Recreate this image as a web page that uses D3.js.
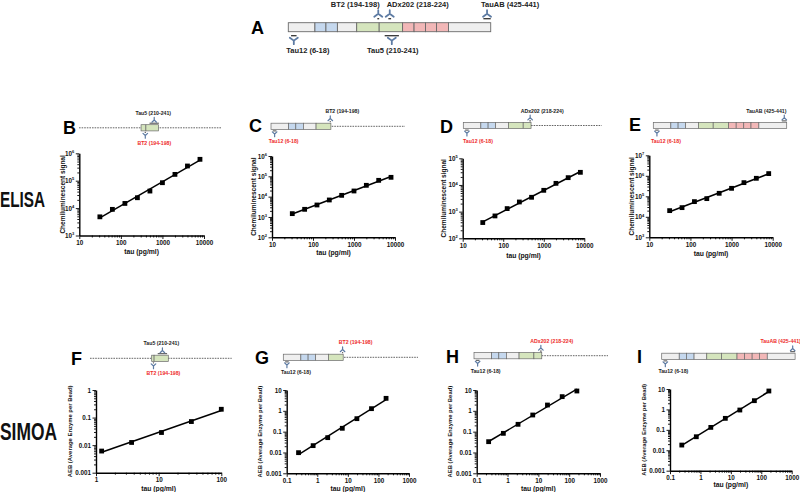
<!DOCTYPE html>
<html><head><meta charset="utf-8">
<script src="https://cdn.jsdelivr.net/npm/d3@7"></script>
<style>body{margin:0;background:#fff}svg{display:block}text{font-family:"Liberation Sans",Arial,sans-serif}</style>
</head><body><svg id="c" width="800" height="492"></svg>
<script>
// ---------- data ----------
const elisaConc = [31.25, 62.5, 125, 250, 500, 1000, 2000, 4000, 8000];
const elisaB = [4800, 9000, 14800, 23900, 41900, 84500, 170000, 344000, 603000];
const elisaC = [1460, 2380, 3890, 6860, 11600, 19000, 36100, 63500, 89300];
const elisaD = [390, 690, 1300, 2300, 3450, 6300, 11500, 18800, 29800];
const elisaE = [20000, 28000, 55000, 77000, 140000, 245000, 464000, 755000, 1280000];
const simoaConcF = [1.23, 3.7, 11.1, 33.3, 100];
const simoaF = [0.0061, 0.0125, 0.0287, 0.0717, 0.2];
const simoaConc = [0.244, 0.732, 2.195, 6.58, 19.75, 59.3, 177.8];
const simoaG = [0.0098, 0.0213, 0.0515, 0.145, 0.42, 1.27, 3.98];
const simoaH = [0.033, 0.083, 0.225, 0.63, 1.9, 4.8, 8.95];
const simoaI = [0.018, 0.046, 0.132, 0.366, 0.935, 2.68, 7.98];

const elisaXTicks = [10, 100, 1000, 10000];
const elisaXLabels = ["10", "100", "1000", "10000"];
const elisaYTicksB = [1e3, 1e4, 1e5, 1e6];
const elisaYTicksC = [1e2, 1e3, 1e4, 1e5, 1e6];
const elisaYTicksD = [1e2, 1e3, 1e4, 1e5];
const elisaYTicksE = [1e3, 1e4, 1e5, 1e6, 1e7];
const simoaXTicksF = [1, 10, 100];
const simoaXLabelsF = ["1", "10", "100"];
const simoaXTicks = [0.1, 1, 10, 100, 1000];
const simoaXLabels = ["0.1", "1", "10", "100", "1000"];
const simoaYTicksF = [0.001, 0.01, 0.1, 1];
const simoaYLabelsF = ["0.001", "0.01", "0.1", "1"];
const simoaYTicks = [0.001, 0.01, 0.1, 1, 10];
const simoaYLabels = ["0.001", "0.01", "0.1", "1", "10"];

// tau domain map (residue boundaries) and colours
const domainStart = [0, 58, 82, 107, 149, 198, 249, 274, 299, 323, 349];
const domainEnd   = [58, 82, 107, 149, 198, 249, 274, 299, 323, 349, 441];
const domainType  = ["n", "b", "b", "n", "g", "g", "r", "r", "r", "r", "n"];
// antibodies
const abNames  = ["Tau12", "BT2", "Tau5", "ADx202", "TauAB"];
const abStart  = [6, 194, 210, 218, 425];
const abEnd    = [18, 198, 241, 224, 441];

// ---------- drawing ----------
const svg = d3.select("#c");
const fillOf = {n: "#efefef", b: "#c5d8ee", g: "#d5e5bd", r: "#f2b7b7"};
const abColor = "#5d7ba3";
const red = "#ee2a2a";

function abLabel(i) { return `${abNames[i]} (${abStart[i]}-${abEnd[i]})`; }

function drawY(g, cx, tipY, dir, w, h, sw) {
  const jy = tipY + dir * h * 0.45;
  const sy = tipY + dir * h;
  g.append("path")
    .attr("d", `M${cx - w / 2},${tipY} L${cx},${jy} L${cx + w / 2},${tipY} M${cx},${jy} L${cx},${sy}`)
    .attr("fill", "none").attr("stroke", abColor).attr("stroke-width", sw)
    .attr("stroke-linecap", "round").attr("stroke-linejoin", "round");
}

function diagram(o) {
  const g = svg.append("g");
  const s = d3.scaleLinear().domain([0, 441]).range([o.origin, o.origin + 441 * o.ppr]);
  if (o.dash) {
    g.append("line").attr("x1", o.dash[0]).attr("x2", o.dash[1]).attr("y1", o.yc).attr("y2", o.yc)
      .attr("stroke", "#666").attr("stroke-width", 1).attr("stroke-dasharray", "1.6,1");
  }
  domainStart.forEach((st, i) => {
    const a = Math.max(st, o.r0), b = Math.min(domainEnd[i], o.r1);
    if (b <= a) return;
    g.append("rect").attr("x", s(a)).attr("y", o.yc - o.hh).attr("width", s(b) - s(a)).attr("height", 2 * o.hh)
      .attr("fill", fillOf[domainType[i]]).attr("stroke", "#6a6a6a").attr("stroke-width", o.box);
  });
  (o.abs || []).forEach(a => {
    const i = abNames.indexOf(a.name);
    const cx = s((abStart[i] + abEnd[i]) / 2);
    const dir = a.top ? -1 : 1;
    g.append("line").attr("x1", s(abStart[i])).attr("x2", s(abEnd[i]))
      .attr("y1", o.yc + dir * o.barOff).attr("y2", o.yc + dir * o.barOff)
      .attr("stroke", "#333").attr("stroke-width", o.barW);
    drawY(g, cx, o.yc + dir * o.tipOff, dir, o.yw, o.yh, o.ysw);
    g.append("text").attr("x", cx + (a.dx || 0)).attr("y", o.yc + (a.top ? -o.labTop : o.labBot))
      .attr("text-anchor", a.anchor || "middle").attr("font-size", o.fs).attr("font-weight", "bold")
      .attr("fill", a.red ? red : "#222").text(abLabel(i));
  });
  if (o.letter) {
    svg.append("text").attr("x", o.letter[1]).attr("y", o.letter[2]).attr("font-size", 18)
      .attr("font-weight", "bold").attr("fill", "#000").text(o.letter[0]);
  }
}

function minorTicks(dom) {
  const out = [];
  const lo = Math.round(Math.log10(dom[0])), hi = Math.round(Math.log10(dom[1]));
  for (let e = lo; e < hi; e++) for (let m = 2; m <= 9; m++) out.push(m * Math.pow(10, e));
  return out;
}

function chart(o) {
  const x = d3.scaleLog().domain(o.xDom).range([o.x0, o.x1]);
  const y = d3.scaleLog().domain(o.yDom).range([o.yBot, o.yTop]);
  const g = svg.append("g");
  const style = sel => {
    sel.select(".domain").attr("stroke", "#000").attr("stroke-width", 1.4);
    sel.selectAll(".tick line").attr("stroke", "#000").attr("stroke-width", 0.9);
    sel.selectAll(".tick text").attr("font-size", 6.3).attr("font-weight", "bold").attr("fill", "#111")
      .attr("font-family", '"Liberation Sans",Arial,sans-serif');
  };
  g.append("g").attr("transform", `translate(0,${o.yBot})`)
    .call(d3.axisBottom(x).tickValues(minorTicks(o.xDom)).tickSize(2).tickSizeOuter(0).tickFormat(""))
    .call(s => s.select(".domain").remove()).call(style);
  g.append("g").attr("transform", `translate(${o.x0},0)`)
    .call(d3.axisLeft(y).tickValues(minorTicks(o.yDom)).tickSize(2).tickSizeOuter(0).tickFormat(""))
    .call(s => s.select(".domain").remove()).call(style);
  g.append("g").attr("transform", `translate(0,${o.yBot})`)
    .call(d3.axisBottom(x).tickValues(o.xTicks).tickSize(3.5).tickSizeOuter(0).tickPadding(1.5)
      .tickFormat((d, i) => o.xLabels[i])).call(style);
  const gy = g.append("g").attr("transform", `translate(${o.x0},0)`)
    .call(d3.axisLeft(y).tickValues(o.yTicks).tickSize(3.5).tickSizeOuter(0).tickPadding(1.5)
      .tickFormat((d, i) => o.yLabels ? o.yLabels[i] : "10")).call(style);
  if (!o.yLabels) {
    gy.selectAll(".tick text").each(function (d) {
      const t = d3.select(this);
      t.text("10");
      t.append("tspan").attr("dy", -2.8).attr("font-size", 4).text(Math.round(Math.log10(d)));
    });
  }
  const lx = o.xs.map(Math.log10), ly = o.ys.map(Math.log10);
  const mx = d3.mean(lx), my = d3.mean(ly);
  const slope = d3.sum(lx.map((v, i) => (v - mx) * (ly[i] - my))) / d3.sum(lx.map(v => (v - mx) ** 2));
  const ic = my - slope * mx;
  const ends = [o.xs[0], o.xs[o.xs.length - 1]];
  g.append("path").datum(ends)
    .attr("d", d3.line().x(d => x(d)).y(d => y(Math.pow(10, ic + slope * Math.log10(d)))))
    .attr("stroke", "#000").attr("stroke-width", 1.5).attr("fill", "none");
  g.selectAll("rect.pt").data(o.xs).join("rect").attr("class", "pt")
    .attr("x", (d) => x(d) - 2.4).attr("y", (d, i) => y(o.ys[i]) - 2.4)
    .attr("width", 4.8).attr("height", 4.8).attr("fill", "#000");
  g.append("text").attr("x", (o.x0 + o.x1) / 2).attr("y", o.xTitleY).attr("text-anchor", "middle")
    .attr("font-size", 6.8).attr("font-weight", "bold").attr("fill", "#111").text("tau (pg/ml)");
  g.append("text").attr("transform", `translate(${o.yTitleX},${(o.yTop + o.yBot) / 2}) rotate(-90)`)
    .attr("text-anchor", "middle").attr("font-size", o.yTitleFs).attr("font-weight", "bold").attr("fill", "#111")
    .text(o.yTitle);
}

// ---------- panel A ----------
const big = {ppr: 0.459, hh: 4.5, box: 0.9, barOff: 8.5, barW: 1.3, tipOff: 10.5, yw: 8, yh: 6.5, ysw: 1.8, fs: 7.5, labTop: 20, labBot: 26};
diagram(Object.assign({}, big, {origin: 288.3, r0: 0, r1: 441, yc: 27.2, letter: ["A", 251, 34],
  abs: [{name: "BT2", top: true, dx: -23}, {name: "ADx202", top: true, dx: 28}, {name: "TauAB", top: true, anchor: "start", dx: -6},
        {name: "Tau12", top: false, dx: 14}, {name: "Tau5", top: false, dx: 1}]}));

const sm = {ppr: 0.3025, hh: 3.1, box: 0.7, barOff: 4.6, barW: 0.9, tipOff: 5.6, yw: 4.6, yh: 4.8, ysw: 1.2, fs: 5.2, labTop: 13, labBot: 17};
diagram(Object.assign({}, sm, {origin: 86, r0: 182, r1: 240, yc: 127.8, dash: [79, 222], letter: ["B", 63, 134],
  abs: [{name: "Tau5", top: true, dx: -1}, {name: "BT2", top: false, red: true, dx: 9}]}));
diagram(Object.assign({}, sm, {origin: 271, r0: 0, r1: 198, yc: 126.3, dash: [331.7, 405], letter: ["C", 249, 132],
  abs: [{name: "BT2", top: true, dx: 12}, {name: "Tau12", top: false, red: true, dx: 9}]}));
diagram(Object.assign({}, sm, {origin: 463.3, r0: 0, r1: 224, yc: 125.5, dash: [531, 601.7], letter: ["D", 440, 133],
  abs: [{name: "ADx202", top: true, dx: 12}, {name: "Tau12", top: false, red: true, dx: 11}]}));
diagram(Object.assign({}, sm, {origin: 653.3, r0: 0, r1: 441, yc: 125.5, letter: ["E", 629, 131],
  abs: [{name: "TauAB", top: true, dx: -18}, {name: "Tau12", top: false, red: true, dx: 9}]}));
diagram(Object.assign({}, sm, {origin: 94.2, r0: 190, r1: 245, yc: 358.3, dash: [90, 231.7], letter: ["F", 71, 365],
  abs: [{name: "Tau5", top: true, dx: -1}, {name: "BT2", top: false, red: true, dx: 10}]}));
diagram(Object.assign({}, sm, {origin: 283.3, r0: 0, r1: 198, yc: 357.3, dash: [344, 418], letter: ["G", 255, 364],
  abs: [{name: "BT2", top: true, red: true, dx: 13}, {name: "Tau12", top: false, dx: 9}]}));
diagram(Object.assign({}, sm, {origin: 474, r0: 0, r1: 224, yc: 355.7, dash: [541.7, 608], letter: ["H", 446, 363],
  abs: [{name: "ADx202", top: true, red: true, dx: 11}, {name: "Tau12", top: false, dx: 8}]}));
diagram(Object.assign({}, sm, {origin: 661.7, r0: 0, r1: 441, yc: 356.3, letter: ["I", 637, 363],
  abs: [{name: "TauAB", top: true, red: true, dx: -12}, {name: "Tau12", top: false, dx: 8}]}));

// ---------- charts ----------
const eT = "Chemiluminescent signal", sT = "AEB (Average Enzyme per Bead)";
chart({x0: 79.3, x1: 204, yTop: 153.3, yBot: 235.5, xDom: [10, 10000], yDom: [1e3, 1e6], xs: elisaConc, ys: elisaB,
  xTicks: elisaXTicks, xLabels: elisaXLabels, yTicks: elisaYTicksB, yTitle: eT, yTitleFs: 6.5, yTitleX: 64.5, xTitleY: 254});
chart({x0: 272, x1: 395, yTop: 156, yBot: 237.3, xDom: [10, 10000], yDom: [1e2, 1e6], xs: elisaConc, ys: elisaC,
  xTicks: elisaXTicks, xLabels: elisaXLabels, yTicks: elisaYTicksC, yTitle: eT, yTitleFs: 6.5, yTitleX: 255.8, xTitleY: 255});
chart({x0: 462.7, x1: 584.3, yTop: 158.3, yBot: 238.3, xDom: [10, 10000], yDom: [1e2, 1e5], xs: elisaConc, ys: elisaD,
  xTicks: elisaXTicks, xLabels: elisaXLabels, yTicks: elisaYTicksD, yTitle: eT, yTitleFs: 6.5, yTitleX: 445.8, xTitleY: 257.5});
chart({x0: 649.3, x1: 772.7, yTop: 155.3, yBot: 237.3, xDom: [10, 10000], yDom: [1e3, 1e7], xs: elisaConc, ys: elisaE,
  xTicks: elisaXTicks, xLabels: elisaXLabels, yTicks: elisaYTicksE, yTitle: eT, yTitleFs: 6.5, yTitleX: 634.2, xTitleY: 255.5});
chart({x0: 96, x1: 221.3, yTop: 390, yBot: 472.7, xDom: [1, 100], yDom: [0.001, 1], xs: simoaConcF, ys: simoaF,
  xTicks: simoaXTicksF, xLabels: simoaXLabelsF, yTicks: simoaYTicksF, yLabels: simoaYLabelsF, yTitle: sT, yTitleFs: 5.9, yTitleX: 72.2, xTitleY: 490.5});
chart({x0: 286.7, x1: 409, yTop: 390, yBot: 473.3, xDom: [0.1, 1000], yDom: [0.001, 10], xs: simoaConc, ys: simoaG,
  xTicks: simoaXTicks, xLabels: simoaXLabels, yTicks: simoaYTicks, yLabels: simoaYLabels, yTitle: sT, yTitleFs: 5.9, yTitleX: 262.2, xTitleY: 490.5});
chart({x0: 476.7, x1: 600, yTop: 390, yBot: 473.3, xDom: [0.1, 1000], yDom: [0.001, 10], xs: simoaConc, ys: simoaH,
  xTicks: simoaXTicks, xLabels: simoaXLabels, yTicks: simoaYTicks, yLabels: simoaYLabels, yTitle: sT, yTitleFs: 5.9, yTitleX: 452.2, xTitleY: 490.5});
chart({x0: 670, x1: 791.7, yTop: 389, yBot: 470.7, xDom: [0.1, 1000], yDom: [0.001, 10], xs: simoaConc, ys: simoaI,
  xTicks: simoaXTicks, xLabels: simoaXLabels, yTicks: simoaYTicks, yLabels: simoaYLabels, yTitle: sT, yTitleFs: 5.9, yTitleX: 645.5, xTitleY: 486.5});

// row labels
svg.append("text").attr("x", 0).attr("y", 206.7).attr("font-size", 22).attr("font-weight", 600).attr("textLength", 45)
  .attr("lengthAdjust", "spacingAndGlyphs").attr("font-family", '"Open Sans",sans-serif').attr("fill", "#111").text("ELISA");
svg.append("text").attr("x", 0).attr("y", 440).attr("font-size", 24).attr("font-weight", 600).attr("textLength", 57)
  .attr("lengthAdjust", "spacingAndGlyphs").attr("font-family", '"Open Sans",sans-serif').attr("fill", "#111").text("SIMOA");
</script></body></html>
